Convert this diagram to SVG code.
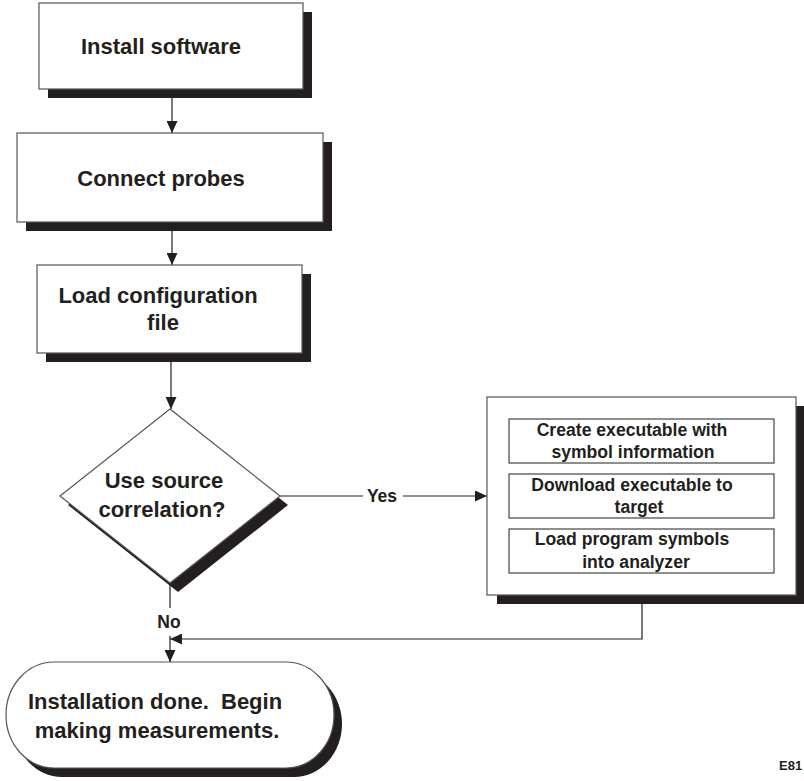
<svg xmlns="http://www.w3.org/2000/svg" width="804" height="781" viewBox="0 0 804 781">
  <defs>
    <marker id="arrow" markerUnits="userSpaceOnUse" markerWidth="12" markerHeight="11" refX="12" refY="5.5" orient="auto">
      <path d="M0,0 L12,5.5 L0,11 Z" fill="#231f20"/>
    </marker>
    <style>
      .box { fill: #ffffff; stroke: #555555; stroke-width: 1.2; }
      .shadow { fill: #231f20; stroke: none; }
      .inner { fill: #ffffff; stroke: #444444; stroke-width: 1.2; }
      .conn { fill: none; stroke: #231f20; stroke-width: 1.2; }
      .conn-end { marker-end: url(#arrow); }
      text { font-family: "Liberation Sans", Arial, Helvetica, sans-serif; font-weight: bold; fill: #231f20; }
      .big { font-size: 22px; }
      .small { font-size: 17.6px; }
      .label { font-size: 17.5px; }
    </style>
  </defs>

  <rect width="804" height="781" fill="#ffffff"/>

  <!-- connectors -->
  <g id="connectors">
    <path class="conn conn-end" d="M172,89 V133"/>
    <path class="conn conn-end" d="M172,222 V265"/>
    <path class="conn conn-end" d="M171,353 V409"/>
    <path class="conn conn-end" d="M280,496 H363 M403,496 H487"/>
    <path class="conn" d="M170,583 V608"/>
    <path class="conn conn-end" d="M170,636 V662"/>
    <path class="conn conn-end" d="M642,604 V639 H170"/>
    <text class="label" x="382" y="502" text-anchor="middle">Yes</text>
    <text class="label" x="169" y="628" text-anchor="middle">No</text>
  </g>

  <!-- step 1 -->
  <g id="install-software">
    <rect class="shadow" x="48" y="12" width="264" height="86"/>
    <rect class="box" x="39" y="3" width="264" height="86"/>
    <text class="big" x="161" y="54" text-anchor="middle">Install software</text>
  </g>

  <!-- step 2 -->
  <g id="connect-probes">
    <rect class="shadow" x="26" y="142" width="306" height="89"/>
    <rect class="box" x="17" y="133" width="306" height="89"/>
    <text class="big" x="161" y="186" text-anchor="middle">Connect probes</text>
  </g>

  <!-- step 3 -->
  <g id="load-config">
    <rect class="shadow" x="46" y="274" width="265" height="88"/>
    <rect class="box" x="37" y="265" width="265" height="88"/>
    <text class="big" x="158" y="303" text-anchor="middle">Load configuration</text>
    <text class="big" x="163" y="330" text-anchor="middle">file</text>
  </g>

  <!-- decision -->
  <g id="decision">
    <polygon class="shadow" points="178,418 288,505 178,592 68,505"/>
    <polygon class="box" points="170,409 280,496 170,583 60,496"/>
    <text class="big" x="164" y="488" text-anchor="middle">Use source</text>
    <text class="big" x="162" y="517" text-anchor="middle">correlation?</text>
  </g>

  <!-- source correlation steps -->
  <g id="source-steps">
    <rect class="shadow" x="497" y="406" width="309" height="198"/>
    <rect class="box" x="487" y="397" width="309" height="198"/>
    <rect class="inner" x="509" y="419" width="265" height="44"/>
    <text class="small" x="632" y="436" text-anchor="middle">Create executable with</text>
    <text class="small" x="633" y="458" text-anchor="middle">symbol information</text>
    <rect class="inner" x="509" y="474" width="265" height="44"/>
    <text class="small" x="632" y="491" text-anchor="middle">Download executable to</text>
    <text class="small" x="639" y="513" text-anchor="middle">target</text>
    <rect class="inner" x="509" y="529" width="265" height="44"/>
    <text class="small" x="632" y="545" text-anchor="middle">Load program symbols</text>
    <text class="small" x="636" y="568" text-anchor="middle">into analyzer</text>
  </g>

  <!-- terminator -->
  <g id="done">
    <rect class="shadow" x="14" y="671" width="328" height="106" rx="48" ry="53"/>
    <rect class="box" x="6" y="662" width="328" height="106" rx="48" ry="53"/>
    <text class="big" x="155" y="709" text-anchor="middle" xml:space="preserve">Installation done.  Begin</text>
    <text class="big" x="157" y="738" text-anchor="middle">making measurements.</text>
  </g>

  <!-- figure number -->
  <text x="779" y="770" style="font-size:13px">E81</text>
</svg>
